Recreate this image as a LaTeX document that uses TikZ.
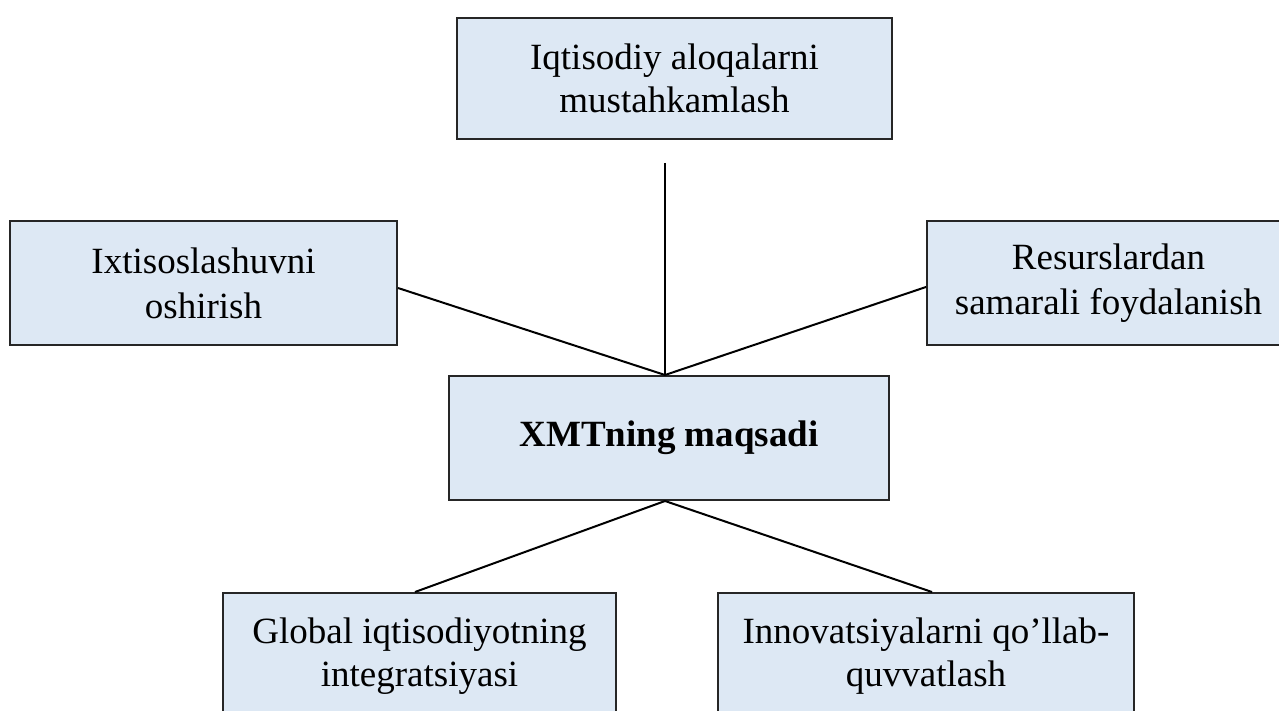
\documentclass[tikz,border=0pt]{standalone}
\usepackage{fontspec}
\setmainfont{Liberation Serif}
\usetikzlibrary{positioning}
\definecolor{boxblue}{HTML}{DDE8F4}

\begin{document}
\begin{tikzpicture}[on grid, line width=1pt,
      every node/.style={font=\fontsize{18.5}{21.5}\selectfont, align=center},
      box/.style={draw=black!85, fill=boxblue, line width=1pt, inner sep=0pt}]
  \useasboundingbox (0,0) rectangle (639.5pt,-355.5pt);
  \node[box, minimum width=220pt, minimum height=62pt, font=\fontsize{18.5}{21.5}\selectfont\bfseries] (b_goal) at (334.5pt,-219pt) {XMTning maqsadi};
  \node[box, minimum width=217.5pt, minimum height=60.5pt] (b_top) [above right=179.75pt and 2.75pt of b_goal] {Iqtisodiy aloqalarni\\mustahkamlash};
  \node[box, minimum width=193.5pt, minimum height=62pt, font=\fontsize{18.5}{22.5}\selectfont] (b_spec) [above left=77.5pt and 232.75pt of b_goal] {Ixtisoslashuvni\\oshirish};
  \node[box, minimum width=181.5pt, minimum height=62pt, font=\fontsize{18.5}{22.5}\selectfont] (b_res) [above right=77.5pt and 219.75pt of b_goal] {Resurslardan\\samarali foydalanish};
  \node[box, minimum width=196.5pt, minimum height=63pt] (b_glob) [below left=109pt and 124.75pt of b_goal] {Global iqtisodiyotning\\integratsiyasi};
  \node[box, minimum width=208pt, minimum height=63pt] (b_innov) [below right=109pt and 128.5pt of b_goal] {Innovatsiyalarni qo’llab-\\quvvatlash};
  \coordinate (c_in) at ([xshift=-2pt]b_goal.north);
  \coordinate (c_out) at ([xshift=-2pt]b_goal.south);
  \draw ([xshift=-4.75pt,yshift=-11.5pt]b_top.south) -- (c_in);
  \draw ([yshift=-2.5pt]b_spec.east) -- (c_in);
  \draw ([yshift=-2pt]b_res.west) -- (c_in);
  \draw (c_out) -- ([xshift=-2.25pt]b_glob.north);
  \draw (c_out) -- ([xshift=3pt]b_innov.north);
\end{tikzpicture}
\end{document}
